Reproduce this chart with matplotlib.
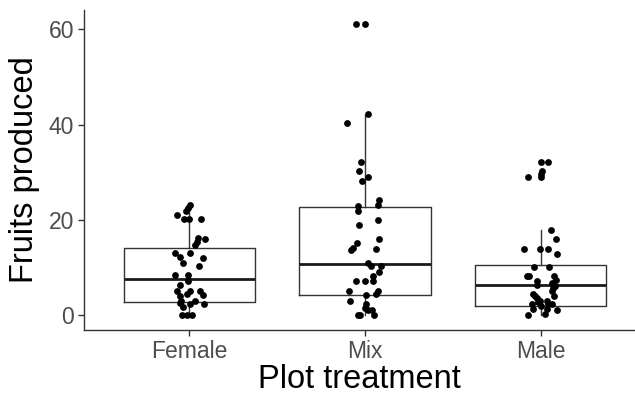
import numpy as np
from matplotlib import pyplot as plt

plt.rcParams['font.family'] = ['Liberation Sans', 'DejaVu Sans']

groups = ["Female", "Mix", "Male"]

# box summaries: lower whisker, Q1, median, Q3, upper whisker
whis_lo = [0, 0, 0]
q1 = [2.8, 4.3, 2.05]
med = [7.7, 10.8, 6.3]
q3 = [14.2, 22.8, 10.6]
whis_hi = [23, 42, 18]

# jittered points: horizontal offset (category units) and value
female_dx = [0.003, -0.01, -0.02, -0.073, -0.031, -0.003, 0.066, 0.049, 0.088, 0.041,
             0.031, -0.083, 0.003, -0.054, -0.037, 0.077, 0.054, -0.083, -0.01, -0.009,
             -0.054, -0.073, 0.003, 0.059, -0.054, -0.016, 0.077, 0.031, -0.045, 0.083,
             0.003, -0.037, -0.054, -0.043, -0.014, 0.014]
female_y = [23.2, 22.6, 22, 21.1, 20.2, 20.2, 20.2, 16.3, 16.1, 15.5,
            14.8, 13.2, 13.2, 12.2, 11, 12, 10.3, 8.4, 8.4, 7.3,
            6.3, 5.1, 5.2, 5.1, 4, 4.4, 4.2, 3.1, 3, 2.5,
            2.3, 1.7, 2.6, 0.1, 0.1, 0.1]

mix_dx = [-0.053, 0.002, 0.015, -0.105, -0.024, -0.032, 0.019, -0.017, 0.082, 0.076,
          -0.041, -0.038, -0.034, 0.072, 0.082, -0.047, -0.07, -0.08, 0.063, 0.019,
          0.034, 0.091, 0.082, 0.047, -0.053, 0.0, 0.044, -0.089, 0.076, 0.063,
          0.006, -0.085, 0.006, 0.0, 0.017, 0.038, -0.028, 0.053, -0.038]
mix_y = [61.2, 61.2, 42.2, 40.3, 32.2, 30.3, 29.1, 28.1, 24.3, 23.2,
         23, 22, 19, 20.1, 16, 15.1, 14.2, 13.8, 14, 11,
         10.3, 10.3, 9.1, 8.2, 7.2, 7.2, 7.2, 5.2, 5.1, 4.4,
         4.2, 3.1, 2.4, 1.6, 1.2, 1.1, 0.2, 0.2, 0]

male_dx = [0.003, 0.041, 0.007, 0.003, -0.073, 0.001, 0.058, 0.087, -0.092, -0.003,
           0.045, 0.092, -0.037, 0.05, -0.079, -0.066, 0.078, 0.086, -0.018, -0.021,
           0.064, 0.083, 0.064, 0.069, 0.078, -0.041, -0.031, -0.021, -0.003, -0.012,
           0.035, 0.044, -0.047, 0.067, 0.003, -0.041, 0.035, 0.092, 0.026, -0.073]
male_y = [32.1, 32.1, 30.2, 29.7, 29.1, 29, 18, 16, 14, 14,
          14, 12.9, 10.2, 10.2, 8.2, 8.2, 8.2, 7.5, 7.3, 6.3,
          6.8, 6.1, 5.2, 5.8, 4, 4.4, 4, 3.7, 3.1, 2.8,
          3, 2.5, 2.3, 2.3, 1.9, 1.25, 1.4, 1.1, 0.4, 0.2]

fig = plt.figure(figsize=(6.35, 3.95), dpi=100)
ax = fig.add_axes([84 / 635, 65 / 395, 551 / 635, 320 / 395])

stats = []
for i in range(3):
    stats.append({"whislo": whis_lo[i], "q1": q1[i], "med": med[i], "q3": q3[i],
                  "whishi": whis_hi[i], "fliers": []})

ax.bxp(stats, positions=[1, 2, 3], widths=0.75, showfliers=False, showcaps=False,
       boxprops=dict(color="#333333", linewidth=1.0),
       whiskerprops=dict(color="#333333", linewidth=1.0),
       medianprops=dict(color="#1a1a1a", linewidth=2.0))

all_dx = [female_dx, mix_dx, male_dx]
all_y = [female_y, mix_y, male_y]
for i in range(3):
    xs = np.array(all_dx[i]) + i + 1
    ax.scatter(xs, all_y[i], s=24, color="black", linewidths=0, zorder=3)

ax.set_xlim(0.4, 3.538)
ax.set_ylim(-3.05, 64.05)
ax.set_xticks([1, 2, 3])
ax.set_xticklabels(groups)
ax.set_yticks([0, 20, 40, 60])

for s in ["top", "right"]:
    ax.spines[s].set_visible(False)
for s in ["left", "bottom"]:
    ax.spines[s].set_color("#333333")
    ax.spines[s].set_linewidth(1.0)

ax.tick_params(axis="both", colors="#333333", length=4, width=1.0, labelsize=16.5,
               labelcolor="#4D4D4D", pad=3)

ax.set_xlabel("Plot treatment", fontsize=23.5, color="black", labelpad=1)
ax.set_ylabel("Fruits produced", fontsize=23.5, color="black", labelpad=6)

fig.savefig("out.png", dpi=100)
